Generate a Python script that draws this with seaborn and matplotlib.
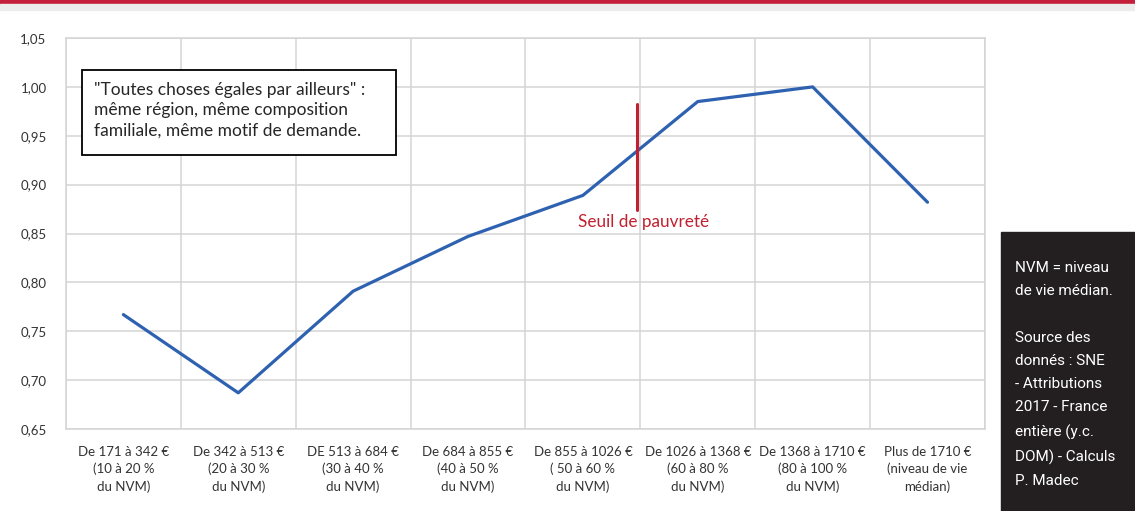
import numpy as np
import seaborn as sns
import matplotlib.pyplot as plt
from matplotlib.patches import Rectangle

# tranches de niveau de vie
categories = [
    "De 171 à 342 €\n(10 à 20 %\ndu NVM)",
    "De 342 à 513 €\n(20 à 30 %\ndu NVM)",
    "DE 513 à 684 €\n(30 à 40 %\ndu NVM)",
    "De 684 à 855 €\n(40 à 50 %\ndu NVM)",
    "De 855 à 1026 €\n( 50 à 60 %\ndu NVM)",
    "De 1026 à 1368 €\n(60 à 80 %\ndu NVM)",
    "De 1368 à 1710 €\n(80 à 100 %\ndu NVM)",
    "Plus de 1710 €\n(niveau de vie\nmédian)",
]
values = [0.767, 0.687, 0.791, 0.847, 0.889, 0.985, 1.000, 0.882]
y_ticks = [0.65, 0.70, 0.75, 0.80, 0.85, 0.90, 0.95, 1.00, 1.05]

# seuil de pauvreté (position entre deux tranches)
seuil_x = 4.47
seuil_y = [0.874, 0.983]

note_text = '"Toutes choses égales par ailleurs" :\nmême région, même composition\nfamiliale, même motif de demande.'
source_text = ("NVM = niveau\nde vie médian.\n\nSource des\ndonnés : SNE\n- Attributions\n"
               "2017 - France\nentière (y.c.\nDOM) - Calculs\nP. Madec")

sns.set_style("white")
plt.rcParams['font.family'] = ['Lato', 'DejaVu Sans']

fig = plt.figure(figsize=(11.35, 5.11), dpi=100)
ax = fig.add_axes([0.0581, 0.1605, 0.8097, 0.7651])

x = np.arange(len(values))
sns.lineplot(x=x, y=values, ax=ax, color="#2e62b1", linewidth=2.3)

ax.set_xlim(-0.5, len(values) - 0.5)
ax.set_ylim(0.65, 1.05)
ax.set_yticks(y_ticks)
ax.set_yticklabels([f"{v:.2f}".replace(".", ",") for v in y_ticks], fontsize=9.5, color="#333333")
ax.set_xticks(x)
ax.set_xticklabels(categories, fontsize=9.5, color="#333333", linespacing=1.5)
ax.set_xticks(np.arange(-0.5, len(values)), minor=True)
ax.tick_params(axis='both', which='both', length=0)
ax.tick_params(axis='y', pad=14)
ax.tick_params(axis='x', pad=12)

ax.grid(False)
ax.grid(True, axis='y', which='major', color="#d4d4d4", linewidth=1.1)
ax.grid(True, axis='x', which='minor', color="#d4d4d4", linewidth=1.1)
for s in ax.spines.values():
    s.set_color("#d4d4d4")
    s.set_linewidth(1.1)

# seuil
ax.plot([seuil_x, seuil_x], seuil_y, color="#c0202f", linewidth=2.2)
ax.text(seuil_x + 0.06, 0.862, "Seuil de pauvreté", color="#c0202f", fontsize=12.3,
        ha='center', va='center')

# encadré
ax.add_patch(Rectangle((0.0174, 0.701), 0.342, 0.217, transform=ax.transAxes,
                       facecolor='white', edgecolor='black', linewidth=1.3, zorder=3))
ax.text(0.0305, 0.815, note_text, transform=ax.transAxes, fontsize=12.5, va='center', ha='left',
        linespacing=1.3, zorder=4)

# bandeau rouge en haut
fig.patches.append(Rectangle((0, 0.992), 1, 0.008, transform=fig.transFigure, color="#c41f3b", zorder=0))
fig.patches.append(Rectangle((0, 0.98), 1, 0.012, transform=fig.transFigure, color="#ececec", zorder=0))

# encadré source
fig.patches.append(Rectangle((1001 / 1135, 0), 1 - 1001 / 1135, 1 - 232 / 511, transform=fig.transFigure,
                             color="#231f20", zorder=0))
fig.text(1015 / 1135, 1 - 261 / 511, source_text, color="white", fontsize=11, va='top', ha='left',
         family=['Roboto', 'DejaVu Sans'], linespacing=1.84)

fig.savefig("out.png", dpi=100)
